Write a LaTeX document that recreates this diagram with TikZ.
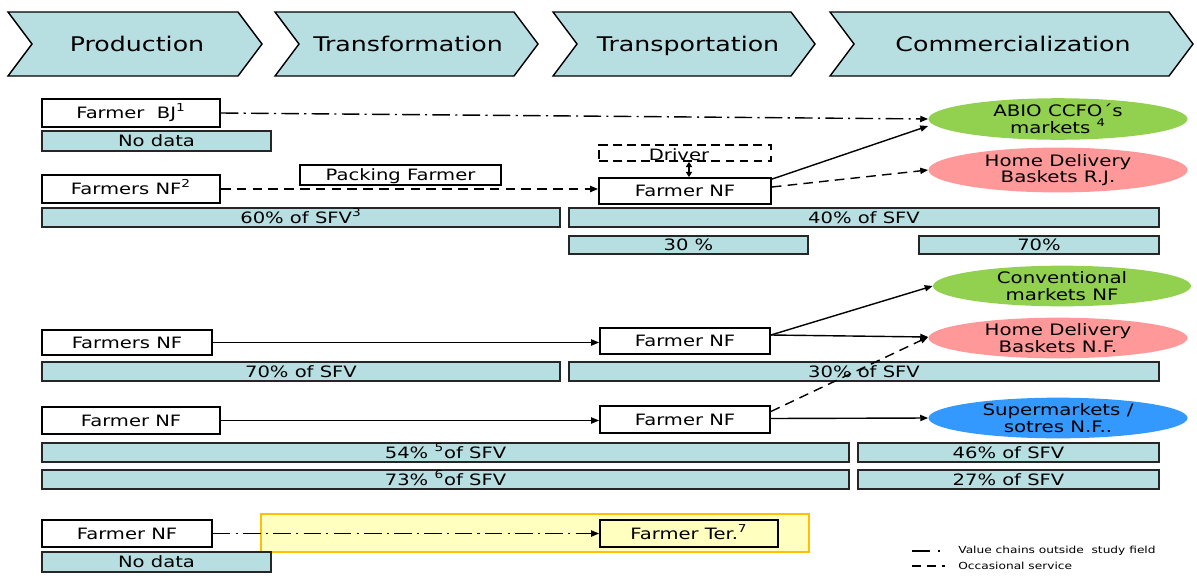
\documentclass[tikz,border=0pt]{standalone}
\usepackage{fontspec}
\setmainfont{DejaVu Sans}[FakeStretch=1.25]
\usetikzlibrary{arrows.meta,calc,fit,shapes.geometric}
\definecolor{barfill}{RGB}{183,222,225}
\definecolor{mktgreen}{RGB}{146,208,80}
\definecolor{mktpink}{RGB}{255,153,153}
\definecolor{mktblue}{RGB}{51,153,255}
\definecolor{zonefill}{RGB}{255,255,192}
\definecolor{zoneline}{RGB}{255,192,0}
\begin{document}
\begin{tikzpicture}[x=0.02cm,y=-0.02cm,
  chev/.style={fill=barfill,draw=black,line width=0.8pt,line join=miter},
  chevtext/.style={font=\fontsize{11.5}{13}\selectfont,inner sep=0pt,text height=8.4pt,text depth=0pt},
  txt/.style={font=\fontsize{8.9}{10}\selectfont,inner sep=0pt,text height=6.4pt,text depth=0pt},
  say/.style={label={[txt]center:#1}},
  box/.style={draw=black,line width=1pt,fill=white,inner sep=0pt},
  drvbox/.style={draw=black,line width=0.9pt,dash pattern=on 5pt off 3pt,inner sep=0pt},
  stripe/.style={draw=black!85,line width=1pt,fill=barfill,inner sep=0pt},
  market/.style 2 args={ellipse,draw=none,inner sep=0pt,align=center,
    minimum width=#1*0.02cm,minimum height=#2*0.02cm,
    font=\fontsize{9}{9.4}\selectfont},
  flow/.style={line width=0.8pt,-{Triangle[length=4.5pt,width=3.5pt]}},
  occasional/.style={flow,dash pattern=on 5.5pt off 3.5pt},
  outside/.style={flow,dash pattern=on 10pt off 3pt on 1.2pt off 3pt},
  legtext/.style={font=\fontsize{5.55}{6}\selectfont,anchor=west,inner sep=0pt}]
\useasboundingbox (0,0) rectangle (1197,575);

% value chain stages
\path[chev] (8,12) -- (238,12) -- (262,44) -- (238,76) -- (8,76) -- (32,44) -- cycle;
\path[chev] (275,12) -- (514,12) -- (538,44) -- (514,76) -- (275,76) -- (299,44) -- cycle;
\path[chev] (553,12) -- (791,12) -- (815,44) -- (791,76) -- (553,76) -- (577,44) -- cycle;
\path[chev] (830,12) -- (1169,12) -- (1193,44) -- (1169,76) -- (830,76) -- (854,44) -- cycle;
\node[chevtext] (stprod) at (137,44) {Production};
\node[chevtext] (sttrans) at (408,44) {Transformation};
\node[chevtext] (stport) at (688,44) {Transportation};
\node[chevtext] (stcomm) at (1013,44) {Commercialization};

% chain 1
\node[box,fit={(42,99) (220,127)},say={Farmer\ \ BJ\textsuperscript{1}}] (bj) {};
\node[stripe,fit={(42,131) (271,151)},say={No data}] (nd1) {};
\node[market={259}{38},fill=mktgreen] (abio) at (1058,119) {ABIO CCFO´s\\markets \textsuperscript{4}};
\node[drvbox,fit={(599,145) (771,161)}] (driver) {};
\node[txt] (drvtext) at ($(driver.center)+(-6,2)$) {Driver};
\node[box,fit={(300,165) (501,185)},say={Packing Farmer}] (pack) {};
\node[box,fit={(42,175) (220,203)},say={Farmers NF\textsuperscript{2}}] (fnf2) {};
\node[box,fit={(599,178) (771,204)},say={Farmer NF}] (tnf1) {};
\node[market={259}{37},fill=mktpink] (hdrj) at (1058,170) {Home Delivery\\Baskets R.J.};
\node[stripe,fit={(42,208) (560,227)},say={60\% of SFV\textsuperscript{3}}] (s60) {};
\node[stripe,fit={(569,208) (1159,227)},say={40\% of SFV}] (s40) {};
\node[stripe,fit={(569,236) (808,254)},say={30 \%}] (s30a) {};
\node[stripe,fit={(919,236) (1159,254)},say={70\%}] (s70a) {};

\draw[outside] (bj.east) -- (abio.west);
\draw[occasional] (fnf2.east) -- (fnf2.east -| tnf1.west);
\draw[line width=0.8pt,{Triangle[length=3pt,width=3.5pt]}-{Triangle[length=3pt,width=3.5pt]}] ($(driver.south)+(4,0)$) -- ($(tnf1.north)+(4,0)$);
\draw[flow] ($(tnf1.north east)+(0,2)$) -- ($(abio.west)+(0,7)$);
\draw[occasional] ($(tnf1.east)+(0,-4)$) -- (hdrj.west);

% chain 2
\node[market={258}{38},fill=mktgreen] (conv) at (1062,286) {Conventional\\markets NF};
\node[box,fit={(42,330) (212,355)},say={Farmers NF}] (fs2) {};
\node[box,fit={(600,328) (770,354)},say={Farmer NF}] (tnf2) {};
\node[market={259}{37},fill=mktpink] (hdnf) at (1058,338) {Home Delivery\\Baskets N.F.};
\node[stripe,fit={(42,362) (560,381)},say={70\% of SFV}] (s70b) {};
\node[stripe,fit={(569,362) (1159,381)},say={30\% of SFV}] (s30b) {};

\draw[flow] (fs2.east) -- (fs2.east -| tnf2.west);
\draw[flow] ($(tnf2.east)+(0,-6)$) -- (conv.west);
\draw[flow] ($(tnf2.east)+(0,-6)$) -- ($(hdnf.west)+(0,-1)$);

% chain 3
\node[box,fit={(42,407) (220,434)},say={Farmer NF}] (f3) {};
\node[box,fit={(600,406) (770,433)},say={Farmer NF}] (tnf3) {};
\node[market={259}{39},fill=mktblue] (super) at (1058,418) {Supermarkets /\\sotres N.F..};
\node[stripe,fit={(42,443) (849,462)},say={54\% \textsuperscript{5}of SFV}] (s54) {};
\node[stripe,fit={(858,443) (1159,462)},say={46\% of SFV}] (s46) {};
\node[stripe,fit={(42,470) (849,489)},say={73\% \textsuperscript{6}of SFV}] (s73) {};
\node[stripe,fit={(858,470) (1159,489)},say={27\% of SFV}] (s27) {};

\draw[flow] (f3.east) -- (f3.east -| tnf3.west);
\draw[occasional] ($(tnf3.east)+(0,-8)$) -- ($(hdnf.west)+(0,-1)$);
\draw[flow] ($(tnf3.east)+(0,-1)$) -- (super.west);

% chain 4
\node[draw=zoneline,fill=zonefill,line width=1.6pt,inner sep=0pt,fit={(261,514) (809,552)}] (zone) {};
\node[box,fit={(42,520) (212,547)},say={Farmer NF}] (f4) {};
\node[box,fill=zonefill,fit={(600,520) (778,547)},say={Farmer Ter.\textsuperscript{7}}] (ter) {};
\node[stripe,fit={(42,552) (271,572)},say={No data}] (nd4) {};
\draw[outside] (f4.east) -- (f4.east -| ter.west);

% legend
\coordinate (lga) at (912,551);
\coordinate (lgb) at (945,551);
\coordinate (lgc) at (912,566);
\coordinate (lgd) at (945,566);
\draw[line width=0.8pt,dash pattern=on 10pt off 5pt on 0.8pt off 5pt] (lga) -- (lgb);
\draw[line width=0.8pt,dash pattern=on 5pt off 3.5pt] (lgc) -- (lgd);
\node[legtext] (lgt1) at (958,551) {Value chains outside\ \ study field};
\node[legtext] (lgt2) at (958,566) {Occasional service};
\end{tikzpicture}
\end{document}
